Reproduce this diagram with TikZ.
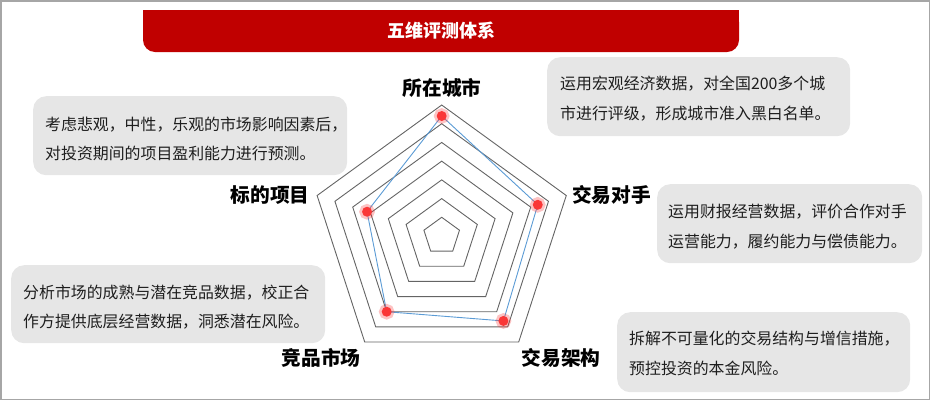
\documentclass[tikz,border=0pt]{standalone}
\usepackage{fontspec}
\setmainfont{Noto Sans CJK SC}
\usetikzlibrary{calc}
\definecolor{bannerred}{RGB}{192,0,0}
\definecolor{boxgray}{RGB}{230,230,230}
\definecolor{framegray}{RGB}{166,166,166}
\definecolor{ringgray}{RGB}{100,100,100}
\definecolor{dataline}{RGB}{91,155,213}
\definecolor{dotred}{RGB}{250,55,55}
\definecolor{bodytext}{RGB}{30,30,30}
\begin{document}
\begin{tikzpicture}[x=1pt,y=-1pt,
  infobox/.style={fill=boxgray, rounded corners=13pt, draw=none, inner sep=0pt, anchor=north west},
  infotext/.style={anchor=west, align=left, inner sep=0pt, text=bodytext, font=\fontsize{15.9}{29.5}\selectfont},
  axislabel/.style={inner sep=0pt, text=black, font=\bfseries\fontsize{19.7}{22}\selectfont},
  titletext/.style={inner sep=0pt, text=white, font=\bfseries\fontsize{18}{20}\selectfont},
  ring/.style={draw=ringgray, line width=0.9pt, line join=miter},
  datapath/.style={draw=dataline, line width=0.9pt},
  dot/.style={circle, inner sep=0pt, minimum size=10pt, fill=dotred, draw=dotred, draw opacity=0.3, line width=5.5pt}
]
\useasboundingbox (0,0) rectangle (930,400);
\draw[framegray, line width=1.5pt] (0.75,0.75) rectangle (929.25,399.25);

% banner
\fill[bannerred, rounded corners=12pt] (143,10) rectangle (739,52);
\fill[bannerred] (143,10) rectangle (739,30);
\node[titletext] (title) at (441,31) {五维评测体系};

% radar grid
\coordinate (c) at (441.7,236);
\foreach \k in {1,...,7}{
  \draw[ring] ($(c)+(-90:{\k*18.714})$) -- ($(c)+(-18:{\k*18.714})$) -- ($(c)+(54:{\k*18.714})$) -- ($(c)+(126:{\k*18.714})$) -- ($(c)+(198:{\k*18.714})$) -- cycle;
}

% data
\coordinate (p1) at ($(c)+(-90:120)$);
\coordinate (p2) at ($(c)+(-18:101)$);
\coordinate (p3) at ($(c)+(54:105)$);
\coordinate (p4) at ($(c)+(126:93.6)$);
\coordinate (p5) at ($(c)+(198:78.5)$);
\draw[datapath] (p1) -- (p2) -- (p3) -- (p4) -- (p5) -- cycle;
\node[dot] (d1) at (p1) {};
\node[dot] (d2) at (p2) {};
\node[dot] (d3) at (p3) {};
\node[dot] (d4) at (p4) {};
\node[dot] (d5) at (p5) {};

% axis labels
\node[axislabel] (l1) at (442,88) {所在城市};
\node[axislabel, anchor=west] (l2) at (572,195) {交易对手};
\node[axislabel] (l3) at (561,358) {交易架构};
\node[axislabel] (l4) at (321,358) {竞品市场};
\node[axislabel] (l5) at (270,195) {标的项目};

% info boxes
\node[infobox, minimum width=303pt, minimum height=79pt] (b1) at (547,57) {};
\node[infotext] (t1) at ([xshift=13pt,yshift=-2pt]b1.west) {运用宏观经济数据，对全国200多个城\\市进行评级，形成城市准入黑白名单。};

\node[infobox, minimum width=314pt, minimum height=79pt] (b2) at (33,96) {};
\node[infotext] (t2) at ([xshift=12pt,yshift=-3pt]b2.west) {考虑悲观，中性，乐观的市场影响因素后，\\对投资期间的项目盈利能力进行预测。};

\node[infobox, minimum width=265pt, minimum height=79pt] (b3) at (657,184) {};
\node[infotext] (t3) at ([xshift=11pt,yshift=-3pt]b3.west) {运用财报经营数据，评价合作对手\\运营能力，履约能力与偿债能力。};

\node[infobox, minimum width=314pt, minimum height=78pt] (b4) at (11,265) {};
\node[infotext] (t4) at ([xshift=12pt,yshift=-3pt]b4.west) {分析市场的成熟与潜在竞品数据，校正合\\作方提供底层经营数据，洞悉潜在风险。};

\node[infobox, minimum width=293pt, minimum height=80pt] (b5) at (617,312) {};
\node[infotext] (t5) at ([xshift=12pt,yshift=-1pt]b5.west) {拆解不可量化的交易结构与增信措施，\\预控投资的本金风险。};
\end{tikzpicture}
\end{document}
